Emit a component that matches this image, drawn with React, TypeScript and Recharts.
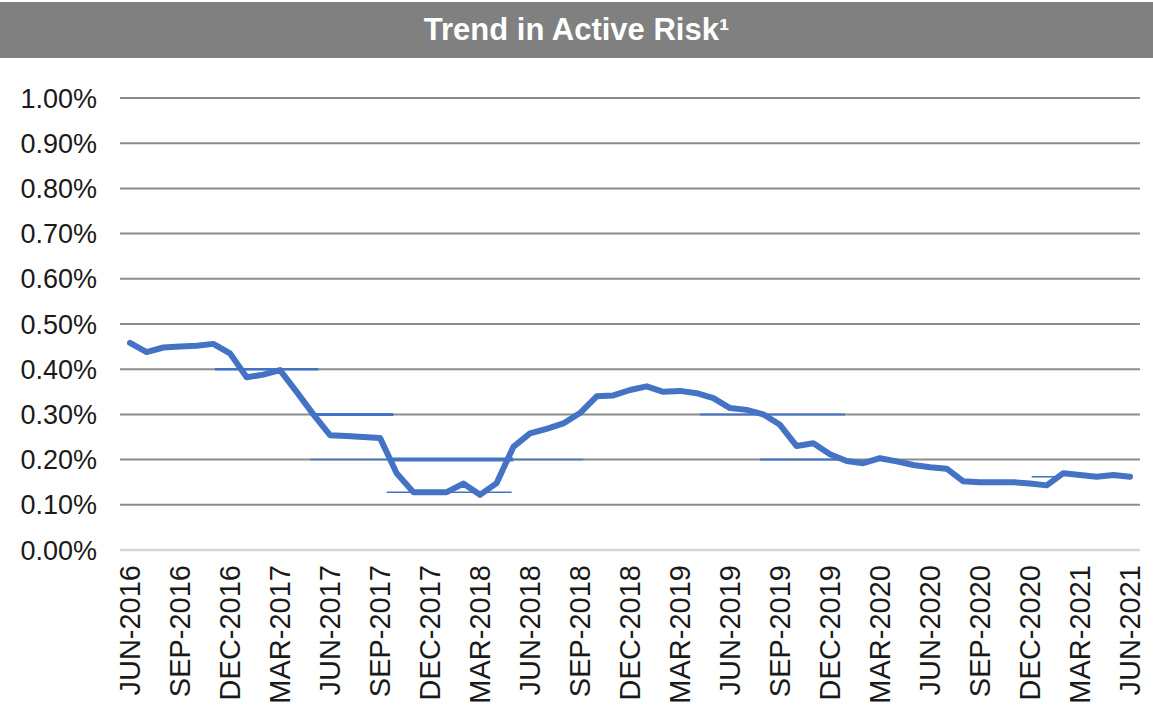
import React from "react";
import { LineChart, Line, XAxis, YAxis, CartesianGrid, ReferenceLine } from "recharts";

const months = [
  "JUN-2016","JUL-2016","AUG-2016","SEP-2016","OCT-2016","NOV-2016","DEC-2016",
  "JAN-2017","FEB-2017","MAR-2017","APR-2017","MAY-2017","JUN-2017","JUL-2017","AUG-2017","SEP-2017","OCT-2017","NOV-2017","DEC-2017",
  "JAN-2018","FEB-2018","MAR-2018","APR-2018","MAY-2018","JUN-2018","JUL-2018","AUG-2018","SEP-2018","OCT-2018","NOV-2018","DEC-2018",
  "JAN-2019","FEB-2019","MAR-2019","APR-2019","MAY-2019","JUN-2019","JUL-2019","AUG-2019","SEP-2019","OCT-2019","NOV-2019","DEC-2019",
  "JAN-2020","FEB-2020","MAR-2020","APR-2020","MAY-2020","JUN-2020","JUL-2020","AUG-2020","SEP-2020","OCT-2020","NOV-2020","DEC-2020",
  "JAN-2021","FEB-2021","MAR-2021","APR-2021","MAY-2021","JUN-2021",
];

// Active risk, in percent
const activeRisk = [
  0.458, 0.438, 0.448, 0.450, 0.452, 0.456, 0.435,
  0.382, 0.388, 0.398, 0.350, 0.300, 0.254, 0.252, 0.250, 0.248, 0.170, 0.128, 0.128,
  0.128, 0.147, 0.122, 0.148, 0.228, 0.258, 0.268, 0.280, 0.303, 0.340, 0.342, 0.354,
  0.362, 0.350, 0.352, 0.347, 0.336, 0.314, 0.310, 0.300, 0.277, 0.230, 0.236, 0.212,
  0.197, 0.192, 0.203, 0.196, 0.188, 0.183, 0.180, 0.152, 0.150, 0.150, 0.150, 0.147,
  0.143, 0.170, 0.166, 0.162, 0.166, 0.162,
];

const xTickLabels = [
  "JUN-2016","SEP-2016","DEC-2016","MAR-2017","JUN-2017","SEP-2017","DEC-2017",
  "MAR-2018","JUN-2018","SEP-2018","DEC-2018","MAR-2019","JUN-2019","SEP-2019",
  "DEC-2019","MAR-2020","JUN-2020","SEP-2020","DEC-2020","MAR-2021","JUN-2021",
];

const yTicks = [0, 0.1, 0.2, 0.3, 0.4, 0.5, 0.6, 0.7, 0.8, 0.9, 1.0];

// Stray horizontal strokes visible in the source picture: [value, fromIndex, toIndex]
const strayValues = [0.40, 0.30, 0.20, 0.20, 0.20, 0.128, 0.30, 0.20, 0.162];
const strayFrom = [5.1, 11.0, 10.8, 15.6, 23.0, 15.4, 34.2, 37.8, 54.1];
const strayTo = [11.3, 15.8, 15.6, 23.0, 27.2, 22.9, 42.9, 42.9, 55.8];
const strayWidths = [2.5, 3, 1.5, 4, 1.5, 1.5, 2, 2, 1.5];

const data = months.map((m, i) => ({ i, month: m, risk: activeRisk[i] }));
const xTicks = xTickLabels.map((l) => months.indexOf(l));

const FONT = "'Liberation Sans', Arial, Helvetica, sans-serif";
const LINE_COLOR = "#4472C4";

const XTick = (props: any) => {
  const { x, y, payload } = props;
  const label = months[payload.value];
  return (
    <text
      x={x}
      y={y}
      transform={`rotate(-90 ${x} ${y})`}
      textAnchor="end"
      dy="0.36em"
      fontSize={29}
      fontFamily={FONT}
      fill="#1a1a1a"
    >
      {label}
    </text>
  );
};

export default function App() {
  return (
    <div style={{ position: "absolute", left: 0, top: 0, width: 1153, height: 710, background: "#fff" }}>
      <LineChart
        width={1153}
        height={710}
        data={data}
        margin={{ top: 98, right: 13, left: 0, bottom: 0 }}
      >
        <CartesianGrid vertical={false} stroke="#8c8c8c" strokeWidth={2} />
        <XAxis
          dataKey="i"
          type="number"
          domain={[-0.6, 60.6]}
          ticks={xTicks}
          interval={0}
          height={160}
          tick={<XTick />}
          tickLine={false}
          tickSize={6}
          tickMargin={9}
          axisLine={{ stroke: "#d6d6d6", strokeWidth: 2.5 }}
        />
        <YAxis
          type="number"
          domain={[0, 1]}
          ticks={yTicks}
          width={120}
          tickLine={false}
          axisLine={false}
          tickSize={6}
          tickMargin={17}
          tickFormatter={(v: number) => v.toFixed(2) + "%"}
          tick={{ fontSize: 27, fill: "#1a1a1a", fontFamily: FONT }}
        />
        {strayValues.map((v, k) => (
          <ReferenceLine
            key={k}
            segment={[{ x: strayFrom[k], y: v }, { x: strayTo[k], y: v }]}
            stroke={LINE_COLOR}
            strokeWidth={strayWidths[k]}
            ifOverflow="extendDomain"
          />
        ))}
        <Line
          type="linear"
          dataKey="risk"
          stroke={LINE_COLOR}
          strokeWidth={6}
          dot={false}
          isAnimationActive={false}
          strokeLinejoin="round"
          strokeLinecap="round"
        />
      </LineChart>
      <div
        style={{
          position: "absolute",
          left: 0,
          top: 2,
          width: 1153,
          height: 56,
          background: "#808080",
          color: "#fff",
          fontFamily: FONT,
          fontWeight: "bold",
          fontSize: 31,
          lineHeight: "56px",
          textAlign: "center",
        }}
      >
        Trend in Active Risk¹
      </div>
    </div>
  );
}
